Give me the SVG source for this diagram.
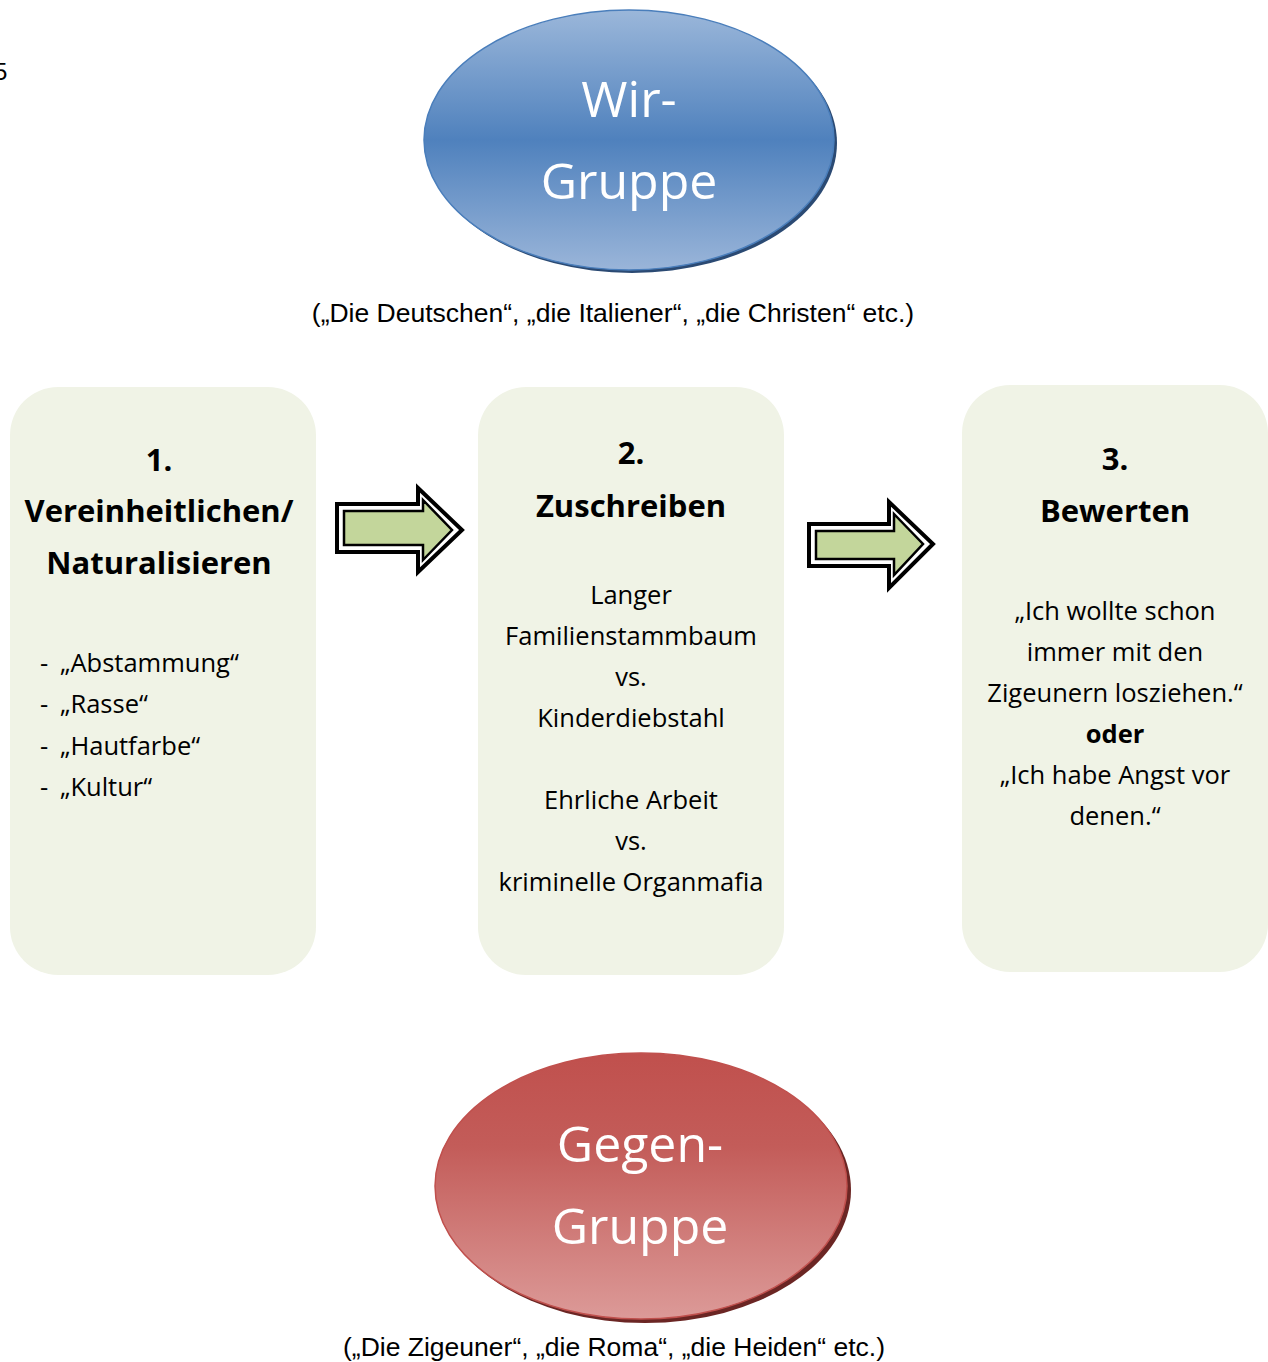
<svg xmlns="http://www.w3.org/2000/svg" width="1268" height="1362" viewBox="0 0 1268 1362">
<defs>
<linearGradient id="blueG" x1="0" y1="0" x2="0" y2="1">
<stop offset="0" stop-color="#9bb7da"/>
<stop offset="0.5" stop-color="#4f81bd"/>
<stop offset="1" stop-color="#9ab5d9"/>
</linearGradient>
<linearGradient id="redG" x1="0" y1="0" x2="0" y2="1">
<stop offset="0" stop-color="#c0504d"/>
<stop offset="0.35" stop-color="#c35c59"/>
<stop offset="1" stop-color="#dc9a98"/>
</linearGradient>
<style>
.box{fill:#f0f3e6;}
.b{font-family:"Open Sans","Noto Sans",sans-serif;font-weight:bold;font-size:31px;fill:#000;text-anchor:middle;}
.t{font-family:"Open Sans","Noto Sans",sans-serif;font-size:25.5px;fill:#000;text-anchor:middle;}
.l{font-family:"Open Sans","Noto Sans",sans-serif;font-size:25.5px;fill:#000;}
.cap{font-family:"Liberation Sans",Arial,sans-serif;font-size:26.5px;fill:#000;text-anchor:middle;}
.big{font-family:"Open Sans","Noto Sans",sans-serif;font-size:50px;fill:#fff;text-anchor:middle;}
.arO{fill:#fff;stroke:#000;stroke-width:4;stroke-linejoin:miter;}
.arI{fill:#c3d69b;stroke:#000;stroke-width:2.5;stroke-linejoin:miter;}
</style>
</defs>
<rect width="1268" height="1362" fill="#fff"/>
<text x="-6" y="80" style="font-family:'Liberation Sans',Arial,sans-serif;font-size:24px;fill:#000">5</text>

<g id="wir-gruppe">
<ellipse cx="632" cy="143" rx="205" ry="130" fill="#2b4a73"/>
<ellipse cx="629" cy="140" rx="205" ry="130" fill="url(#blueG)" stroke="#4a7ebb" stroke-width="1.5"/>
<text class="big" x="629" y="117">Wir-</text>
<text class="big" x="629" y="199">Gruppe</text>
<text class="cap" x="613" y="322">(„Die Deutschen“, „die Italiener“, „die Christen“ etc.)</text>
</g>

<g id="box1">
<rect class="box" x="10" y="387" width="306" height="588" rx="48"/>
<text class="b" x="159" y="471">1.</text>
<text class="b" x="159" y="522">Vereinheitlichen/</text>
<text class="b" x="159" y="574">Naturalisieren</text>
<text class="l" x="40" y="672">-</text><text class="l" x="60" y="672">„Abstammung“</text>
<text class="l" x="40" y="713">-</text><text class="l" x="60" y="713">„Rasse“</text>
<text class="l" x="40" y="755">-</text><text class="l" x="60" y="755">„Hautfarbe“</text>
<text class="l" x="40" y="796">-</text><text class="l" x="60" y="796">„Kultur“</text>
</g>

<g id="box2">
<rect class="box" x="478" y="387" width="306" height="588" rx="48"/>
<text class="b" x="631" y="464">2.</text>
<text class="b" x="631" y="517">Zuschreiben</text>
<text class="t" x="631" y="604">Langer</text>
<text class="t" x="631" y="645">Familienstammbaum</text>
<text class="t" x="631" y="686">vs.</text>
<text class="t" x="631" y="727">Kinderdiebstahl</text>
<text class="t" x="631" y="809">Ehrliche Arbeit</text>
<text class="t" x="631" y="850">vs.</text>
<text class="t" x="631" y="891">kriminelle Organmafia</text>
</g>

<g id="box3">
<rect class="box" x="962" y="385" width="306" height="587" rx="48"/>
<text class="b" x="1115" y="470">3.</text>
<text class="b" x="1115" y="522">Bewerten</text>
<text class="t" x="1115" y="620">„Ich wollte schon</text>
<text class="t" x="1115" y="661">immer mit den</text>
<text class="t" x="1115" y="702">Zigeunern losziehen.“</text>
<text class="t" x="1115" y="743" style="font-weight:bold">oder</text>
<text class="t" x="1115" y="784">„Ich habe Angst vor</text>
<text class="t" x="1115" y="825">denen.“</text>
</g>

<g id="gegen-gruppe">
<ellipse cx="645" cy="1190" rx="206" ry="133" fill="#6b2624"/>
<ellipse cx="641" cy="1186" rx="206" ry="133" fill="url(#redG)" stroke="#c0504d" stroke-width="1.5"/>
<text class="big" x="640" y="1162">Gegen-</text>
<text class="big" x="640" y="1244">Gruppe</text>
<text class="cap" x="614" y="1356">(„Die Zigeuner“, „die Roma“, „die Heiden“ etc.)</text>
</g>

<g id="connectors">
<polygon class="arO" points="337,504 418,504 418,488 462,530 418,572 418,552 337,552"/>
<polygon class="arI" points="344,511 423,511 423,500 452,530 423,560 423,545 344,545"/>
<polygon class="arO" points="809,524 889,524 889,502 933,544 889,588 889,566 809,566"/>
<polygon class="arI" points="816,531 894,531 894,514 923,544 894,575 894,559 816,559"/>
</g>
</svg>
